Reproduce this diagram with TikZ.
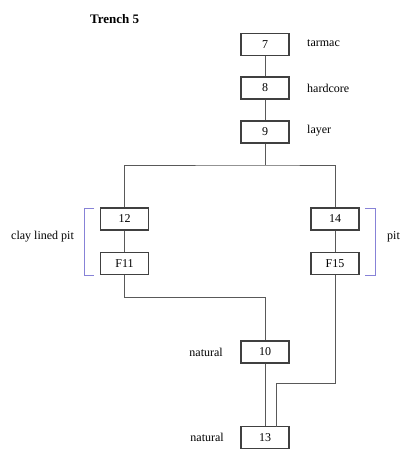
\documentclass[tikz,border=0pt]{standalone}
\usepackage{fontspec}
\setmainfont{Liberation Serif}
\definecolor{brkcol}{RGB}{135,130,215}
\begin{document}
\begin{tikzpicture}[x=1pt,y=-1pt,
  ctx/.style={draw=black!75,line width=1.1pt,minimum width=48pt,minimum height=22pt,inner sep=0pt,font=\fontsize{12}{14}\selectfont,fill=white},
  lbl/.style={font=\fontsize{12}{14}\selectfont,inner sep=0pt},
  link/.style={draw=black!65,line width=0.9pt},
  brk/.style={draw=brkcol,line width=1pt}]
\useasboundingbox (0,0) rectangle (401,450);
\node[font=\bfseries\fontsize{13}{15}\selectfont,anchor=west,inner sep=0pt] (title) at (90,19) {Trench 5};
\node[ctx] (c7) at (265,44.5) {7};
\node[ctx] (c8) at (265,88) {8};
\node[ctx] (c9) at (265,132) {9};
\node[ctx] (c12) at (124.5,219) {12};
\node[ctx] (f11) at (124.5,263.5) {F11};
\node[ctx] (c14) at (335,219) {14};
\node[ctx] (f15) at (335,263.5) {F15};
\node[ctx] (c10) at (265,352) {10};
\node[ctx] (c13) at (265,437.5) {13};
\node[lbl,anchor=west] (l7) at (307,43) {tarmac};
\node[lbl,anchor=west] (l8) at (307,88) {hardcore};
\node[lbl,anchor=west] (l9) at (307,131) {layer};
\node[lbl,anchor=west] (lclay) at (11,237) {clay lined pit};
\node[lbl,anchor=west] (lpit) at (387,237) {pit};
\node[lbl,anchor=east] (l10) at (223,352) {natural};
\node[lbl,anchor=east] (l13) at (224,437.5) {natural};
\coordinate (split) at (265,165);
\draw[link] (c7) -- (c8);
\draw[link] (c8) -- (c9);
\draw[link] (c9) -- (split);
\draw[link] (c12.north) |- (split) -| (c14.north);
\draw[link] (c12) -- (f11);
\draw[link] (c14) -- (f15);
\draw[link] (f11.south) |- (265,297) -- (c10.north);
\draw[link] (c10) -- (c13);
\draw[link] (f15.south) |- (276,383) -- (276,426.5);
\draw[brk] (94,208) -- (84.5,208) -- (84.5,275) -- (94,275);
\draw[brk] (365,208) -- (375.5,208) -- (375.5,275) -- (365,275);
\end{tikzpicture}
\end{document}
